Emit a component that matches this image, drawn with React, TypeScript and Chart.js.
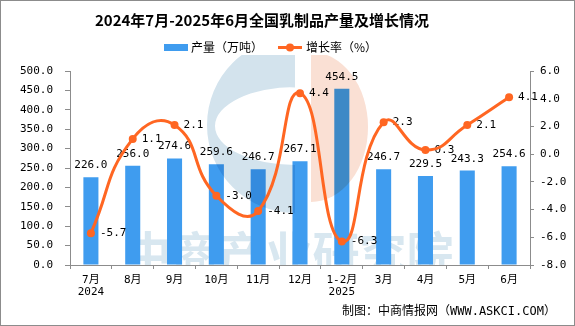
import React, { useEffect, useRef } from 'react';
import { Chart, registerables } from 'chart.js';

Chart.register(...registerables);

const categories: (string | string[])[] = [
  ['7月', '2024'], '8月', '9月', '10月', '11月', '12月', ['1-2月', '2025'], '3月', '4月', '5月', '6月',
];
const production = [226.0, 256.0, 274.6, 259.6, 246.7, 267.1, 454.5, 246.7, 229.5, 243.3, 254.6];
const growth = [-5.7, 1.1, 2.1, -3.0, -4.1, 4.4, -6.3, 2.3, 0.3, 2.1, 4.1];
const titleText = '2024年7月-2025年6月全国乳制品产量及增长情况';
const seriesNames = ['产量（万吨）', '增长率（%）'];
const footerText = '制图：中商情报网（WWW.ASKCI.COM）';
const watermarkText = '中商产业研究院';

const BAR = '#3f9cef';
const LINE = '#ff6622';
const AXIS = '#8c8c8c';
const MONO = '"DejaVu Sans Mono", "Noto Sans CJK SC", monospace';
const CJK = '"Noto Sans CJK SC", sans-serif';

const decor = {
  id: 'decor',
  beforeDatasetsDraw(chart: any) {
    const { ctx, chartArea } = chart;
    ctx.save();
    ctx.beginPath();
    ctx.rect(chartArea.left, chartArea.top, chartArea.right - chartArea.left, chartArea.bottom - chartArea.top);
    ctx.clip();
    ctx.fillStyle = '#d8e7f0';
    ctx.font = `bold 47px ${CJK}`;
    ctx.textAlign = 'center';
    ctx.textBaseline = 'top';
    ctx.fillText(watermarkText, 289, 230);
    ctx.restore();
  },
  afterDatasetDraw(chart: any, args: any) {
    if (args.meta.type !== 'bar') return;
    const { ctx, chartArea } = chart;
    ctx.save();
    ctx.beginPath();
    ctx.rect(0, 55, 575, chartArea.bottom - 55);
    ctx.clip();
    ctx.globalCompositeOperation = 'multiply';
    // blue C
    ctx.beginPath();
    ctx.moveTo(295, 213);
    ctx.arc(295, 125, 88, Math.PI / 2, (3 * Math.PI) / 2, false);
    ctx.closePath();
    ctx.moveTo(295, 87);
    ctx.ellipse(295, 126, 80, 39, 0, (3 * Math.PI) / 2, Math.PI / 2, true);
    ctx.closePath();
    ctx.fillStyle = '#d3e3ed';
    ctx.fill('evenodd');
    // orange half
    ctx.beginPath();
    ctx.moveTo(311, 52);
    ctx.ellipse(311, 127, 57, 75, 0, -Math.PI / 2, Math.PI / 2, false);
    ctx.closePath();
    ctx.fillStyle = '#fae0d4';
    ctx.fill();
    ctx.restore();

    // data labels (under the line)
    ctx.save();
    ctx.font = `11px ${MONO}`;
    ctx.fillStyle = '#000';
    const barMeta = chart.getDatasetMeta(0);
    ctx.textAlign = 'center';
    ctx.textBaseline = 'alphabetic';
    barMeta.data.forEach((el: any, i: number) => {
      ctx.fillText(production[i].toFixed(1), el.x, el.y - 9);
    });
    const lineMeta = chart.getDatasetMeta(1);
    ctx.textAlign = 'left';
    ctx.textBaseline = 'middle';
    lineMeta.data.forEach((el: any, i: number) => {
      ctx.fillText(growth[i].toFixed(1), el.x + 9, el.y);
    });
    ctx.restore();
  },
  afterDraw(chart: any) {
    const { ctx } = chart;
    ctx.save();
    // title
    ctx.fillStyle = '#000';
    ctx.font = `bold 15px ${CJK}`;
    ctx.textAlign = 'center';
    ctx.textBaseline = 'middle';
    ctx.fillText(titleText, 262, 20.5);
    // legend
    ctx.font = `12px ${CJK}`;
    ctx.textAlign = 'left';
    ctx.fillStyle = BAR;
    ctx.fillRect(164, 44, 24, 7);
    ctx.fillStyle = '#000';
    ctx.fillText(seriesNames[0], 191, 47.5);
    ctx.strokeStyle = LINE;
    ctx.lineWidth = 3;
    ctx.beginPath();
    ctx.moveTo(278, 47.5);
    ctx.lineTo(302, 47.5);
    ctx.stroke();
    ctx.fillStyle = LINE;
    ctx.beginPath();
    ctx.arc(290, 47.5, 4, 0, Math.PI * 2);
    ctx.fill();
    ctx.fillStyle = '#000';
    ctx.fillText(seriesNames[1], 306, 47.5);
    // footer
    ctx.font = `12px ${MONO}`;
    ctx.fillText(footerText, 342, 312);
    // border
    ctx.strokeStyle = AXIS;
    ctx.lineWidth = 1;
    ctx.strokeRect(0.5, 0.5, 574, 325);
    ctx.restore();
  },
};

export default function App() {
  const ref = useRef<HTMLCanvasElement>(null);
  useEffect(() => {
    document.body.style.margin = '0';
    const chart = new Chart(ref.current!, {
      type: 'bar',
      data: {
        labels: categories as any,
        datasets: [
          {
            type: 'bar',
            label: seriesNames[0],
            data: production,
            backgroundColor: BAR,
            barPercentage: 0.36,
            categoryPercentage: 1,
            yAxisID: 'y',
            order: 1,
          },
          {
            type: 'line',
            label: seriesNames[1],
            data: growth,
            borderColor: LINE,
            backgroundColor: LINE,
            borderWidth: 3,
            pointRadius: 4,
            pointBackgroundColor: LINE,
            pointBorderWidth: 0,
            tension: 0.5,
            yAxisID: 'y1',
            order: 0,
          } as any,
        ],
      },
      options: {
        responsive: false,
        animation: false,
        devicePixelRatio: 1,
        layout: { padding: { top: 71, left: 0, right: 0, bottom: 0 } },
        plugins: { legend: { display: false }, title: { display: false }, tooltip: { enabled: false } },
        scales: {
          x: {
            grid: { display: true, drawOnChartArea: false, drawTicks: true, tickLength: 4, color: AXIS, offset: true },
            border: { display: true, color: AXIS },
            ticks: { color: '#000', font: { family: MONO, size: 11, lineHeight: 1.1 }, padding: 5, maxRotation: 0, autoSkip: false },
            afterFit: (s: any) => { s.height = 61; },
          },
          y: {
            position: 'left',
            min: 0,
            max: 500,
            grid: { display: true, drawOnChartArea: false, drawTicks: true, tickLength: 5, color: AXIS },
            border: { display: true, color: AXIS },
            ticks: { stepSize: 50, color: '#000', font: { family: MONO, size: 11 }, padding: 12, callback: (v: any) => Number(v).toFixed(1) },
            afterFit: (s: any) => { s.width = 70; },
          },
          y1: {
            position: 'right',
            min: -8,
            max: 6,
            grid: { display: true, drawOnChartArea: false, drawTicks: true, tickLength: 4, color: AXIS },
            border: { display: true, color: AXIS },
            ticks: { stepSize: 2, color: '#000', font: { family: MONO, size: 11 }, padding: 6, callback: (v: any) => Number(v).toFixed(1) },
            afterFit: (s: any) => { s.width = 45; },
          },
        },
      },
      plugins: [decor],
    });
    return () => chart.destroy();
  }, []);
  return (
    <div style={{ width: 575, height: 326 }}>
      <canvas ref={ref} width={575} height={326} style={{ display: 'block', width: 575, height: 326 }} />
    </div>
  );
}
